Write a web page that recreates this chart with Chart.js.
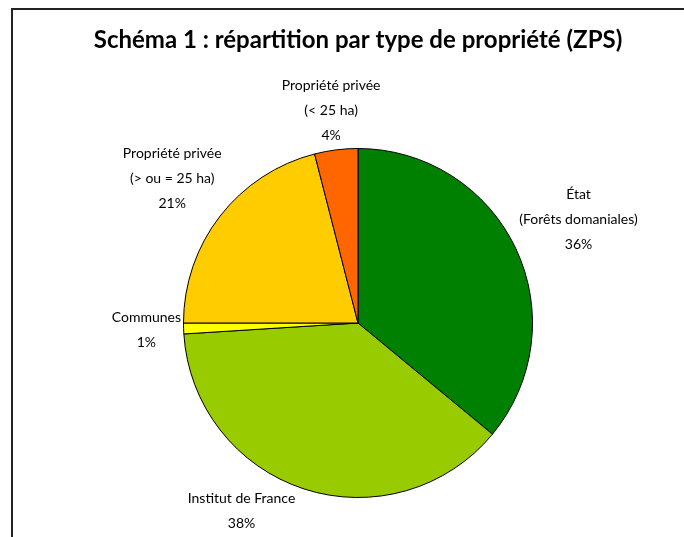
<!DOCTYPE html>
<html>
<head>
<meta charset="utf-8">
<script src="https://cdn.jsdelivr.net/npm/chart.js@4"></script>
<style>
  html, body { margin: 0; padding: 0; background: #fff; }
  #wrap { width: 684px; height: 537px; position: relative; }
</style>
</head>
<body>
<div id="wrap"><canvas id="ownership-pie"></canvas></div>
<script>
const categories = [
  ['État', '(Forêts domaniales)'],
  ['Institut de France'],
  ['Communes'],
  ['Propriété privée', '(> ou = 25 ha)'],
  ['Propriété privée', '(< 25 ha)']
];
const shares = [36, 38, 1, 21, 4];
const sliceColors = ['#008000', '#99CC00', '#FFFF00', '#FFCC00', '#FF6600'];
const chartTitle = 'Schéma 1 : répartition par type de propriété (ZPS)';

const FONT = 'Lato, "Open Sans", sans-serif';

// cadre noir (gauche + haut) et titre centré sur la tarte
const framePlugin = {
  id: 'frame',
  beforeDraw(chart) {
    const ctx = chart.ctx;
    ctx.save();
    ctx.strokeStyle = '#222';
    ctx.lineWidth = 2;
    ctx.beginPath();
    ctx.moveTo(12, chart.height);
    ctx.lineTo(12, 9);
    ctx.lineTo(chart.width, 9);
    ctx.stroke();

    const area = chart.chartArea;
    ctx.font = 'bold 24px ' + FONT;
    ctx.fillStyle = '#000';
    ctx.textAlign = 'center';
    ctx.textBaseline = 'middle';
    ctx.fillText(chartTitle, (area.left + area.right) / 2, 40);
    ctx.restore();
  }
};

// étiquettes à l'extérieur de la tarte (nom + pourcentage)
const outsideLabels = {
  id: 'outsideLabels',
  afterDatasetsDraw(chart) {
    const ctx = chart.ctx;
    const meta = chart.getDatasetMeta(0);
    const lineGap = 25;
    const gap = 2;
    const maxY = chart.height - 6;
    ctx.save();
    ctx.font = '14px ' + FONT;
    ctx.fillStyle = '#000';
    ctx.textAlign = 'center';
    ctx.textBaseline = 'middle';
    meta.data.forEach((arc, i) => {
      const lines = categories[i].concat([shares[i] + '%']);
      const w = Math.max(...lines.map(t => ctx.measureText(t).width));
      const h = (lines.length - 1) * lineGap + 14;
      const { x, y, startAngle, endAngle, outerRadius } = arc.getProps(['x', 'y', 'startAngle', 'endAngle', 'outerRadius'], true);
      let a = (startAngle + endAngle) / 2;
      const place = ang => {
        const dx = Math.cos(ang), dy = Math.sin(ang);
        const ext = Math.abs(dx) * w / 2 + Math.abs(dy) * h / 2;
        const d = outerRadius + gap + ext;
        return { cx: x + dx * d, cy: y + dy * d };
      };
      let p = place(a);
      // si ça déborde en bas, on glisse le long du cercle vers l'horizontale
      let n = 0;
      while (p.cy + h / 2 > maxY && n < 200) {
        a += Math.cos(a) < 0 ? 0.01 : -0.01;
        p = place(a);
        n++;
      }
      const top = p.cy - h / 2 + 7;
      lines.forEach((t, k) => ctx.fillText(t, p.cx, top + k * lineGap));
    });
    ctx.restore();
  }
};

new Chart(document.getElementById('ownership-pie'), {
  type: 'pie',
  data: {
    labels: categories,
    datasets: [
      {
        data: shares,
        backgroundColor: sliceColors,
        borderColor: '#000',
        borderWidth: 1
      }
    ]
  },
  options: {
    responsive: true,
    maintainAspectRatio: false,
    animation: false,
    layout: {
      padding: { top: 148, bottom: 39, left: 183, right: 151 }
    },
    plugins: {
      legend: { display: false },
      tooltip: { enabled: false },
      title: { display: false }
    }
  },
  plugins: [framePlugin, outsideLabels]
});
</script>
</body>
</html>
